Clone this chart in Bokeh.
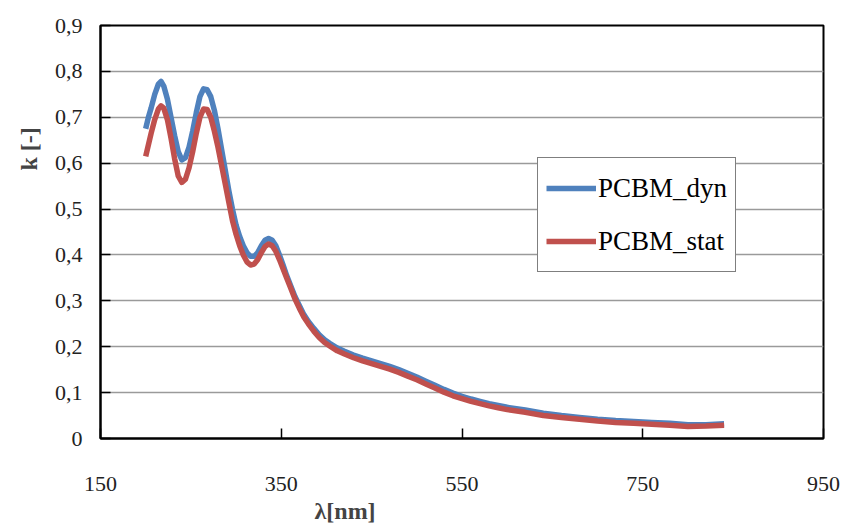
from bokeh.plotting import figure
from bokeh.models import Range1d, FixedTicker, Title, Legend, LegendItem, ColumnDataSource
from bokeh.embed import file_html
from bokeh.resources import INLINE

# wavelength (nm) and extinction coefficient k
wl_dyn = [200, 203, 206, 210, 214, 217, 220, 224, 228, 232, 236, 240, 244, 248, 252, 256, 260, 264, 268,
          272, 276, 280, 284, 288, 292, 296, 300, 304, 308, 312, 316, 320, 324, 328, 332, 336, 340, 344,
          348, 352, 356, 360, 365, 370, 375, 380, 386, 392, 398, 404, 412, 420, 430, 440, 450, 460, 470,
          480, 490, 500, 510, 520, 530, 540, 550, 560, 570, 580, 590, 600, 620, 640, 660, 680, 700, 720,
          740, 760, 780, 800, 820, 840]
k_dyn = [0.675, 0.700, 0.720, 0.750, 0.772, 0.778, 0.768, 0.740, 0.700, 0.660, 0.625, 0.607, 0.612, 0.635,
         0.670, 0.710, 0.745, 0.762, 0.760, 0.745, 0.715, 0.675, 0.630, 0.585, 0.540, 0.500, 0.465, 0.440,
         0.420, 0.405, 0.397, 0.397, 0.405, 0.420, 0.432, 0.436, 0.432, 0.420, 0.400, 0.378, 0.355, 0.335,
         0.310, 0.290, 0.270, 0.255, 0.240, 0.226, 0.215, 0.207, 0.197, 0.190, 0.182, 0.175, 0.169, 0.163,
         0.157, 0.150, 0.142, 0.134, 0.125, 0.116, 0.107, 0.099, 0.092, 0.086, 0.081, 0.076, 0.072, 0.068,
         0.062, 0.055, 0.050, 0.046, 0.042, 0.039, 0.037, 0.035, 0.033, 0.030, 0.030, 0.032]

wl_stat = wl_dyn
k_stat = [0.615, 0.640, 0.665, 0.695, 0.718, 0.725, 0.720, 0.695, 0.655, 0.610, 0.572, 0.558, 0.565, 0.590,
          0.625, 0.665, 0.700, 0.718, 0.717, 0.700, 0.670, 0.635, 0.595, 0.555, 0.515, 0.475, 0.445, 0.420,
          0.400, 0.385, 0.378, 0.380, 0.390, 0.405, 0.418, 0.424, 0.420, 0.408, 0.390, 0.370, 0.350, 0.330,
          0.305, 0.284, 0.265, 0.250, 0.234, 0.220, 0.209, 0.201, 0.191, 0.184, 0.176, 0.169, 0.163, 0.157,
          0.151, 0.144, 0.136, 0.128, 0.119, 0.110, 0.101, 0.093, 0.087, 0.081, 0.076, 0.071, 0.067, 0.063,
          0.057, 0.050, 0.046, 0.042, 0.038, 0.035, 0.033, 0.031, 0.029, 0.026, 0.027, 0.029]

x_ticks = [150, 350, 550, 750, 950]
y_ticks = [0.0, 0.1, 0.2, 0.3, 0.4, 0.5, 0.6, 0.7, 0.8, 0.9]
y_tick_labels = ["0", "0,1", "0,2", "0,3", "0,4", "0,5", "0,6", "0,7", "0,8", "0,9"]
series_names = ["PCBM_dyn", "PCBM_stat"]
x_title = "λ[nm]"
y_title = "k [-]"

FONT = "Liberation Serif"
BLUE = "#4F81BD"
RED = "#C0504D"

p = figure(width=848, height=528, output_backend="svg", toolbar_location=None,
           x_range=Range1d(150, 950), y_range=Range1d(0, 0.9),
           min_border_left=100, min_border_right=25, min_border_top=25, min_border_bottom=90)
p.background_fill_color = "white"
p.border_fill_color = "white"
p.outline_line_color = "black"
p.outline_line_width = 2

p.xgrid.grid_line_color = None
p.ygrid.grid_line_color = "#9a9a9a"
p.ygrid.grid_line_width = 1.5

p.xaxis.ticker = FixedTicker(ticks=x_ticks)
p.yaxis.ticker = FixedTicker(ticks=y_ticks)
p.yaxis.major_label_overrides = {t: l for t, l in zip(y_ticks, y_tick_labels)}
for ax in (p.xaxis[0], p.yaxis[0]):
    ax.axis_line_color = "black"
    ax.axis_line_width = 2
    ax.major_tick_in = 10
    ax.major_tick_out = 0
    ax.major_tick_line_color = "black"
    ax.major_tick_line_width = 1.5
    ax.minor_tick_line_color = None
    ax.major_label_text_font = FONT
    ax.major_label_text_font_size = "22px"
    ax.major_label_text_color = "#222222"
p.xaxis.major_label_standoff = 38
p.yaxis.major_label_standoff = 18

src_d = ColumnDataSource(dict(x=wl_dyn, y=k_dyn))
src_s = ColumnDataSource(dict(x=wl_stat, y=k_stat))
r_d = p.line("x", "y", source=src_d, line_color=BLUE, line_width=5.5, line_join="round")
r_s = p.line("x", "y", source=src_s, line_color=RED, line_width=5.5, line_join="round")

legend = Legend(items=[LegendItem(label=series_names[0], renderers=[r_d]),
                       LegendItem(label=series_names[1], renderers=[r_s])],
                location=(437, 166), orientation="vertical")
legend.label_text_font = FONT
legend.label_text_font_size = "27px"
legend.label_text_color = "black"
legend.border_line_color = "black"
legend.border_line_width = 1.5
legend.background_fill_color = "white"
legend.background_fill_alpha = 1
legend.padding = 8
legend.spacing = 9
legend.margin = 0
legend.label_height = 44
legend.glyph_height = 44
legend.glyph_width = 50
legend.label_standoff = 2
p.add_layout(legend)

xt = Title(text=x_title, align="left", offset=214, text_font=FONT, text_font_size="24px",
           text_font_style="bold", standoff=4)
p.add_layout(xt, "below")
yt = Title(text=y_title, align="left", offset=268, text_font=FONT, text_font_size="24px",
           text_font_style="bold", standoff=20)
p.add_layout(yt, "left")

open("out.html", "w").write(file_html(p, INLINE))
